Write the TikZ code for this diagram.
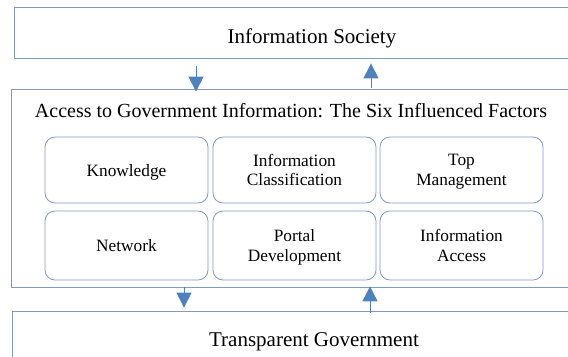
\documentclass[tikz,border=0pt]{standalone}
\usepackage{fontspec}
\setmainfont{Liberation Serif}
\usepackage{xcolor}
\definecolor{b1}{HTML}{4F81BD}
\definecolor{b2}{HTML}{7F9AC4}
\usetikzlibrary{arrows.meta}
\tikzset{
  outerbox/.style={draw=b2,line width=0.8bp,inner sep=0pt},
  factor/.style={draw=b2,line width=0.8bp,rounded corners=10bp,minimum width=163bp,
    align=center,text depth=0pt,font=\fontsize{17.3bp}{19.5bp}\selectfont},
  biglbl/.style={anchor=base,font=\fontsize{21bp}{24bp}\selectfont},
  flow/.style={draw=b1,line width=1bp,-{Triangle[width=15bp,length=15bp]}}
}

\begin{document}
\begin{tikzpicture}[x=1bp,y=-1bp]
  \useasboundingbox (0,0) rectangle (568,356);
  \clip (0,0) rectangle (568,356);

  % three layers
  \node[outerbox,minimum width=596bp,minimum height=51bp] (society) at (312,32.5) {};
  \node[outerbox,minimum width=602bp,minimum height=198bp] (access) at (312,188) {};
  \node[outerbox,minimum width=600bp,minimum height=70bp] (transp) at (312,346) {};

  \node[biglbl] (societylbl) at (312,43) {Information Society};
  \node[biglbl,font=\fontsize{20bp}{23bp}\selectfont] (accesslbl) at (291,117) {Access to Government Information: The Six Influenced Factors};
  \node[biglbl] (transplbl) at (314,346) {Transparent Government};

  % the six factors
  \node[factor,minimum height=66bp] (know) at (126.5,170) {Knowledge};
  \node[factor,minimum height=66bp] (class) at (294.5,170) {Information\\Classification};
  \node[factor,minimum height=66bp] (topm) at (461.5,170) {Top\\Management};
  \node[factor,minimum height=69bp] (net) at (126.5,245.5) {Network};
  \node[factor,minimum height=69bp] (portal) at (294.5,245.5) {Portal\\Development};
  \node[factor,minimum height=69bp] (infacc) at (461.5,245.5) {Information\\Access};

  % arrows between layers
  \coordinate (d1) at (196,0);
  \coordinate (u1) at (371,0);
  \coordinate (d2) at (184,0);
  \coordinate (u2) at (370,0);
  \draw[flow,shorten <=8bp,shorten >=-3bp] (society.south -| d1) -- (access.north -| d1);
  \draw[flow,shorten <=1bp,shorten >=5bp] (access.north -| u1) -- (society.south -| u1);
  \draw[flow,shorten <=0bp,shorten >=3bp] (access.south -| d2) -- (transp.north -| d2);
  \draw[flow,shorten <=-2bp,shorten >=-1bp] (transp.north -| u2) -- (access.south -| u2);
\end{tikzpicture}
\end{document}
